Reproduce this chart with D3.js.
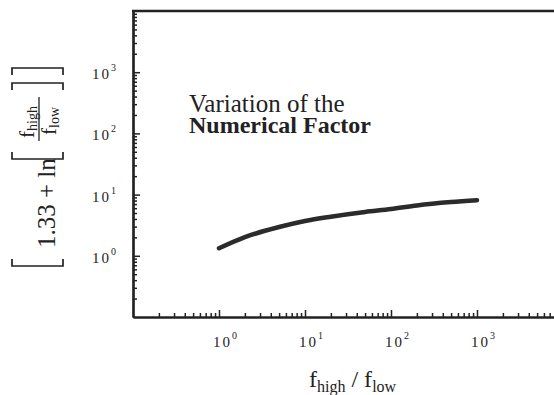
<!DOCTYPE html>
<html>
<head>
<meta charset="utf-8">
<script src="https://cdn.jsdelivr.net/npm/d3@7"></script>
<style>
  html, body { margin: 0; padding: 0; background: #fff; }
  svg { display: block; }
</style>
</head>
<body>
<svg id="chart" width="554" height="395"></svg>
<script>
// ---- data ----
const ratioValues  = [1, 2, 5, 10, 20, 50, 100, 200, 500, 1000];          // f_high / f_low
const factorValues = [1.33, 2.02, 2.95, 3.7, 4.35, 5.2, 5.8, 6.65, 7.55, 8.1]; // 1.33 + ln(...)
const xTickExponents = [0, 1, 2, 3];
const yTickExponents = [0, 1, 2, 3];
const titleLines = ["Variation of the", "Numerical Factor"];

const FONT = "'Liberation Serif', 'Times New Roman', Times, serif";
const svg = d3.select("#chart");
const ink = "#222";

const x = d3.scaleLog().domain([0.1, 1e4]).range([133, 563]);
const y = d3.scaleLog().domain([0.1, 1e4]).range([317, 11]);
const x0 = x(0.1);

const isMajor = v => Math.abs(Math.log10(v) - Math.round(Math.log10(v))) < 1e-9;
const xAll = x.ticks().filter(v => v > 0.1 && v < 1e4);
const yAll = y.ticks().filter(v => v > 0.1 && v < 1e4);

function styleAxis(g) {
  g.selectAll("path.domain").attr("stroke", ink).attr("stroke-width", 2.2);
  g.selectAll(".tick line").attr("stroke", ink).attr("stroke-width", 1.5);
  g.selectAll(".tick text").remove();
}

// minor + major ticks (inward)
svg.append("g").attr("transform", "translate(0,317)")
  .call(d3.axisBottom(x).tickValues(xAll.filter(v => !isMajor(v))).tickSize(-4).tickSizeOuter(0).tickFormat(""))
  .call(styleAxis);
svg.append("g").attr("transform", "translate(0,317)")
  .call(d3.axisBottom(x).tickValues(xAll.filter(isMajor)).tickSize(-7).tickSizeOuter(0).tickFormat(""))
  .call(styleAxis);
svg.append("g").attr("transform", `translate(${x0},0)`)
  .call(d3.axisLeft(y).tickValues(yAll.filter(v => !isMajor(v))).tickSize(-4).tickSizeOuter(0).tickFormat(""))
  .call(styleAxis);
svg.append("g").attr("transform", `translate(${x0},0)`)
  .call(d3.axisLeft(y).tickValues(yAll.filter(isMajor)).tickSize(-7).tickSizeOuter(0).tickFormat(""))
  .call(styleAxis);

// top frame line
svg.append("line").attr("x1", x0 - 1).attr("x2", 554).attr("y1", y(1e4)).attr("y2", y(1e4))
  .attr("stroke", ink).attr("stroke-width", 2.4);

// tick labels with superscripts
xTickExponents.forEach(p => {
  const t = svg.append("text").attr("x", x(Math.pow(10, p)) - 6).attr("y", 347)
    .attr("font-family", FONT).attr("font-size", 15).attr("fill", ink);
  t.append("tspan").attr("letter-spacing", 2).text("10");
  t.append("tspan").attr("dy", -8).attr("font-size", 10).text(p);
});
yTickExponents.forEach(p => {
  const t = svg.append("text").attr("x", 92).attr("y", y(Math.pow(10, p)) + 7)
    .attr("font-family", FONT).attr("font-size", 15).attr("fill", ink);
  t.append("tspan").attr("letter-spacing", 2).text("10");
  t.append("tspan").attr("dy", -8).attr("font-size", 10).text(p);
});

// data curve
svg.append("path")
  .datum(ratioValues.map((r, i) => [r, factorValues[i]]))
  .attr("fill", "none").attr("stroke", "#2b2b2b").attr("stroke-width", 4.5).attr("stroke-linecap", "round")
  .attr("d", d3.line().x(d => x(d[0])).y(d => y(d[1])).curve(d3.curveMonotoneX));

// annotation
svg.append("text").attr("x", 189).attr("y", 112).attr("font-family", FONT).attr("font-size", 25)
  .attr("fill", ink).text(titleLines[0]);
svg.append("text").attr("x", 189).attr("y", 133).attr("font-family", FONT).attr("font-size", 24)
  .attr("font-weight", "bold").attr("fill", ink).text(titleLines[1]);

// x axis title
const xt = svg.append("text").attr("x", 309).attr("y", 387).attr("font-family", FONT)
  .attr("font-size", 24).attr("fill", ink);
xt.append("tspan").text("f");
xt.append("tspan").attr("font-size", 16).attr("dy", 5).text("high");
xt.append("tspan").attr("dy", -5).text(" / f");
xt.append("tspan").attr("font-size", 16).attr("dy", 5).text("low");

// y axis title (rotated)
const yl = svg.append("g").attr("transform", "translate(55,267) rotate(-90)");
function bracket(u, dir) {
  // dir = +1 for "[", -1 for "]"
  yl.append("path")
    .attr("d", `M${u + 7 * dir},-43 L${u},-43 L${u},8 L${u + 7 * dir},8`)
    .attr("fill", "none").attr("stroke", ink).attr("stroke-width", 1.7);
}
bracket(1, 1);
yl.append("text").attr("x", 19).attr("y", 0).attr("font-family", FONT).attr("font-size", 25)
  .attr("fill", ink).text("1.33 + ln");
bracket(108, 1);
// fraction
const num = yl.append("text").attr("x", 129).attr("y", -21).attr("font-family", FONT)
  .attr("font-size", 21).attr("fill", ink);
num.append("tspan").text("f");
num.append("tspan").attr("font-size", 14).attr("dy", 3).text("high");
yl.append("line").attr("x1", 126).attr("x2", 170).attr("y1", -16).attr("y2", -16)
  .attr("stroke", ink).attr("stroke-width", 1.3);
const den = yl.append("text").attr("x", 132).attr("y", 1).attr("font-family", FONT)
  .attr("font-size", 21).attr("fill", ink);
den.append("tspan").text("f");
den.append("tspan").attr("font-size", 14).attr("dy", 3).text("low");
bracket(184, -1);
bracket(199, -1);
</script>
</body>
</html>
